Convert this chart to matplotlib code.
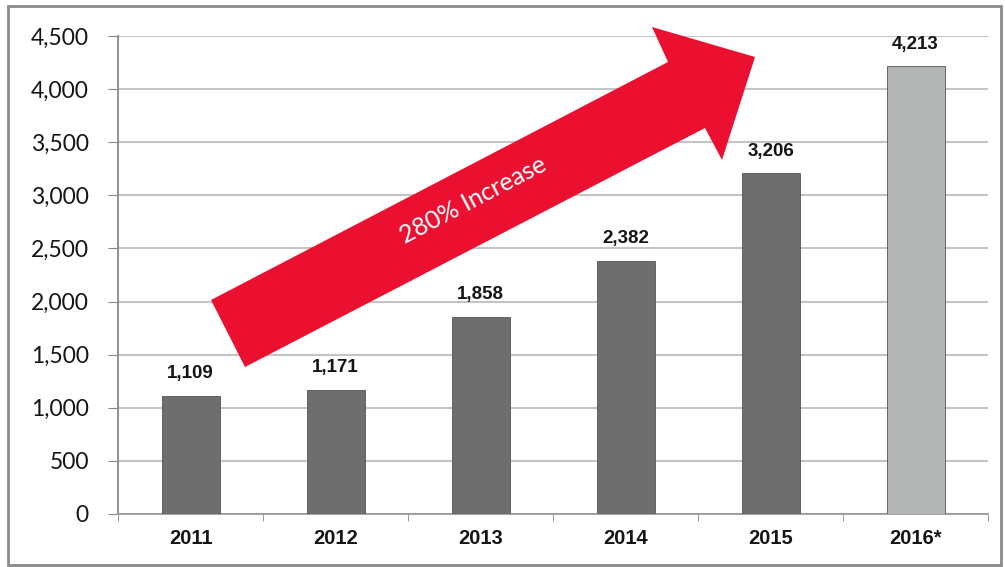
import numpy as np
import matplotlib
matplotlib.use("Agg")
from matplotlib import pyplot as plt
from matplotlib.patches import Polygon, Rectangle

years = ["2011", "2012", "2013", "2014", "2015", "2016*"]
values = [1109, 1171, 1858, 2382, 3206, 4213]
bar_colors = ["#6e6e6e", "#6e6e6e", "#6e6e6e", "#6e6e6e", "#6e6e6e", "#b3b5b4"]
yticks = [0, 500, 1000, 1500, 2000, 2500, 3000, 3500, 4000, 4500]
arrow_text = "280% Increase"

W, H = 1005, 567
fig = plt.figure(figsize=(W / 100, H / 100), dpi=100)
ax = fig.add_axes([118 / W, 1 - 514 / H, (988 - 118) / W, (514 - 36) / H])

x = np.arange(len(years))
ax.bar(x, values, width=0.4, color=bar_colors, edgecolor="#555555", linewidth=0.6, zorder=3)

for xi, v in zip(x, values):
    ax.annotate("{:,}".format(v), (xi, v), xytext=(0, 10), textcoords="offset points",
                ha="center", va="bottom", fontsize=13.5, fontweight="bold",
                family="Liberation Sans", color="#151515")

ax.set_xlim(-0.5, len(years) - 0.5)
ax.set_ylim(0, 4500)
ax.set_yticks(yticks)
ax.set_yticklabels(["{:,}".format(t) for t in yticks], family="Lato", fontsize=16.5, color="#151515")
ax.set_xticks(x)
ax.set_xticklabels(years, fontsize=14.5, fontweight="bold", family="Liberation Sans", color="#151515")
ax.set_xticks(np.arange(-0.5, len(years)), minor=True)
ax.tick_params(axis="x", which="major", length=0, pad=11)
ax.tick_params(axis="x", which="minor", length=5, color="#888888", direction="out")
ax.tick_params(axis="y", length=7, color="#888888", pad=14)

ax.grid(axis="y", color="#c4c4c4", linewidth=1.5, zorder=0)
for s in ["top", "right"]:
    ax.spines[s].set_visible(False)
ax.spines["left"].set_color("#888888")
ax.spines["bottom"].set_color("#999999")
ax.spines["left"].set_linewidth(1.3)
ax.spines["bottom"].set_linewidth(1.3)

# red arrow, pixel coords from top-left
pts = [(211, 300), (668, 62), (652, 27), (755, 57), (722, 160), (705, 128), (245, 367)]
pts = [(px / W, 1 - py / H) for px, py in pts]
fig.patches.append(Polygon(pts, closed=True, facecolor="#ec1030", edgecolor="none",
                           transform=fig.transFigure, zorder=5))
fig.text(473 / W, 1 - 200 / H, arrow_text, color="white", fontsize=18, family="Lato",
         rotation=27.5, ha="center", va="center", rotation_mode="anchor", zorder=6)

# outer frame
fig.patches.append(Rectangle((8 / W, 1 - 565 / H), (1001 - 8) / W, (565 - 6) / H,
                             fill=False, edgecolor="#8a8a8a", linewidth=2,
                             transform=fig.transFigure, zorder=1))

fig.savefig("out.png", dpi=100)
